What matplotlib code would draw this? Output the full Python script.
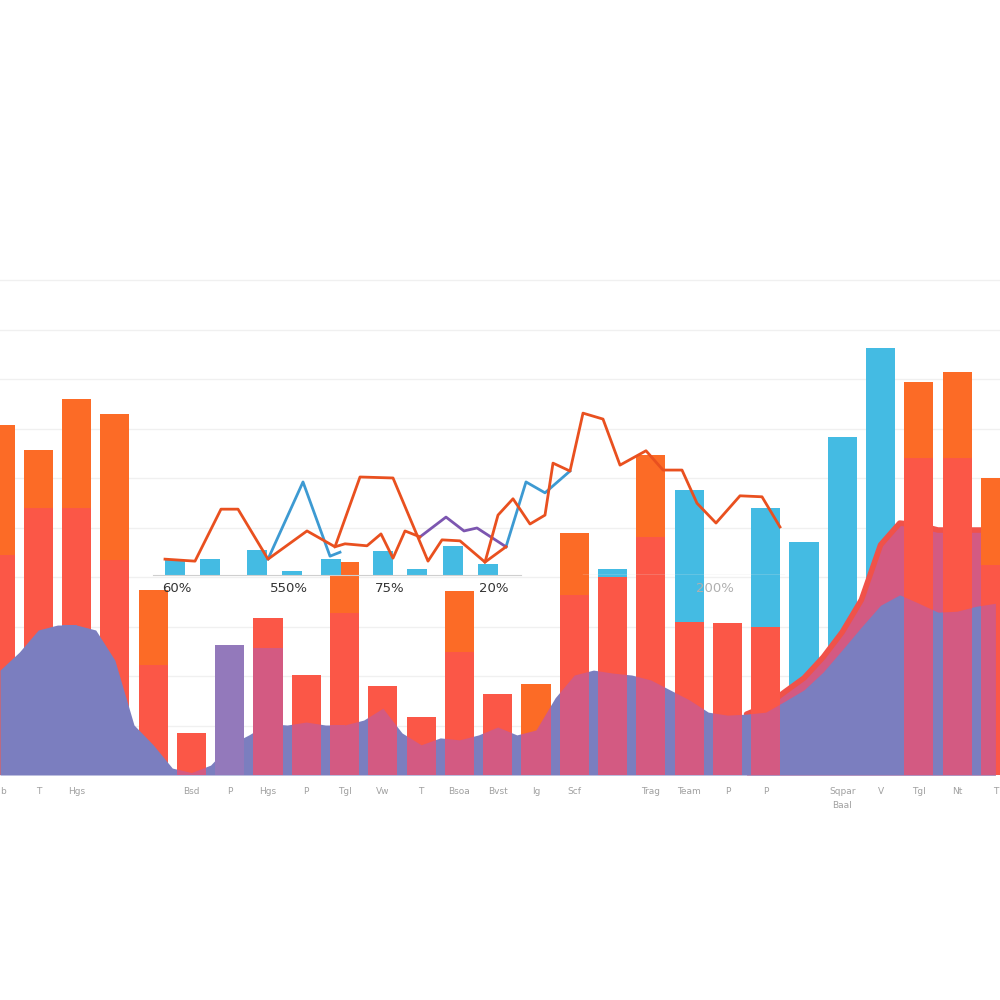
import matplotlib.pyplot as plt
import numpy as np
from matplotlib.path import Path

# ---- main chart: stacked bars + smooth areas ----
cats = ["b", "T", "Hgs", "", "", "Bsd", "P", "Hgs", "P", "Tgl", "Vw", "T", "Bsoa",
        "Bvst", "Ig", "Scf", "", "Trag", "Team", "P", "P", "", "Sqpar\nBaal",
        "V", "Tgl", "Nt", "T"]
red_seg = [44.4, 53.9, 53.9, 43.4, 22.2, 8.5, 0, 31.7, 20.2, 32.7, 18.0, 11.7, 24.8,
           16.4, 0, 36.4, 40.0, 48.1, 30.9, 30.7, 29.9, 0, 0, 0, 64.0, 64.0, 42.4]
orange_seg = [26.3, 11.8, 22.1, 29.5, 15.2, 0, 0, 0, 0, 10.3, 0, 0, 12.4,
              0, 18.4, 12.5, 0, 16.5, 0, 0, 0, 0, 0, 0, 15.4, 17.4, 17.6]
blue_seg = [0, 0, 0, 0, 0, 0, 0, 0, 0, 0, 0, 0, 0,
            0, 0, 0, 1.6, 0, 26.7, 0, 24.0, 47.1, 68.3, 86.3, 0, 0, 0]
violet_seg = [0, 0, 0, 0, 0, 0, 26.3, 0, 0, 0, 0, 0, 0,
              0, 0, 0, 0, 0, 0, 0, 0, 0, 0, 0, 0, 0, 0]
pink_seg = [0, 0, 0, 0, 0, 0, 0, 25.7, 0, 0, 0, 0, 0,
            0, 0, 0, 0, 0, 0, 0, 0, 0, 0, 0, 0, 0, 0]

# purple area, read at every half category
purple_y = [21.2, 24.8, 29.3, 30.3, 30.3, 29.3, 23.2, 10.1, 6.1, 1.4, 0.5, 2.0, 6.1,
            8.1, 10.4, 10.1, 10.7, 10.1, 10.1, 11.1, 13.5, 8.5, 6.1, 7.5, 7.1, 8.1,
            9.7, 8.1, 9.1, 15.6, 20.2, 21.2, 20.6, 20.2, 19.2, 17.2, 15.2, 12.7,
            12.1, 12.3, 12.7, 14.9, 17.2, 20.8, 25.3, 29.9, 34.3, 36.4, 34.7, 32.9,
            33.1, 34.1, 34.7]
# red/pink area on the right, from category 19.5 onward
red_area_y = [12.3, 13.9, 16.8, 19.6, 23.8, 28.9, 35.4, 46.5, 50.9, 50.5, 49.5,
              49.5, 49.5, 49.5]

# ---- inset line chart ----
inset_ticks = [2.5, 13.7, 23.8, 34.2, 56.3]
inset_labels = ["60%", "550%", "75%", "20%", "200%"]
inset_bar_t = [2.3, 5.8, 10.5, 14.0, 17.9, 23.1, 26.5, 30.1, 33.6]
inset_bar_v = [3.0, 3.2, 5.1, 0.8, 3.2, 4.8, 1.2, 5.9, 2.2]

orange_t = [1.3, 4.3, 6.9, 8.6, 11.6, 15.5, 18.3, 20.8, 24.1, 27.6, 29.0, 30.8, 33.3,
            34.6, 36.1, 37.8, 39.3, 40.1, 41.8, 43.1, 45.1, 46.8, 49.4, 51.1, 53.0,
            54.5, 56.4, 58.8, 61.0, 62.8]
orange_v = [3.2, 2.8, 13.3, 13.3, 3.2, 8.9, 5.7, 19.8, 19.6, 2.8, 7.1, 6.9, 2.6,
            12.1, 15.4, 10.3, 12.1, 22.6, 21.0, 32.7, 31.5, 22.2, 25.1, 21.2, 21.2,
            14.5, 10.5, 16.0, 15.8, 9.7]
orange2_t = [18.3, 19.3, 21.5, 22.9, 24.1, 25.3, 26.8, np.nan, 33.3, 35.4]
orange2_v = [5.7, 6.3, 5.9, 8.3, 3.4, 8.9, 7.7, np.nan, 2.6, 5.7]
blue_t = [11.6, 15.1, 17.8, 18.8, np.nan, 35.4, 37.4, 39.3, 41.8]
blue_v = [3.2, 18.8, 3.8, 4.6, np.nan, 5.7, 18.8, 16.6, 21.0]
purple_t = [26.8, 29.4, 31.2, 32.5, 35.4]
purple_v = [7.7, 11.7, 8.9, 9.5, 5.7]

C_ORANGE = '#fc6b26'
C_RED = '#fb5747'
C_BLUE = '#44bbe3'
C_LAV = '#7b7ebf'
C_PINK = '#d35a82'
C_VIOLET = '#9379bb'
N_LAV = 5  # on the first bars the purple area stays lavender

fig = plt.figure(figsize=(10, 10), dpi=100)
fig.patch.set_facecolor('white')

ax = fig.add_axes([0, 0.225, 1, 0.775])
ax.set_xlim(0.179, 26.12)
ax.set_ylim(0, 156.6)
for s in ax.spines.values():
    s.set_visible(False)
ax.set_yticks(np.arange(10, 101, 10))
ax.yaxis.grid(True, color='#f0f0f0', linewidth=1)
ax.set_axisbelow(True)
ax.tick_params(axis='y', length=0, labelleft=False)

x = np.arange(len(cats))
w = 0.76
red = np.array(red_seg)
ax.bar(x, blue_seg, w, bottom=red, color=C_BLUE, zorder=1)
ax.bar(x, red_seg, w, color=C_RED, zorder=4)
ax.bar(x, orange_seg, w, bottom=red, color=C_ORANGE, zorder=4)
ax.bar(x, violet_seg, w, color=C_VIOLET, zorder=4)
ax.bar(x, pink_seg, w, color=C_PINK, zorder=5)

px = np.arange(len(purple_y)) * 0.5
rx = 19.5 + np.arange(len(red_area_y)) * 0.5
ax.fill_between(rx, 0, red_area_y, color=C_PINK, lw=0, zorder=2)
ax.plot(rx, red_area_y, color='#f05249', lw=4, zorder=2.5, solid_capstyle='round')
ax.fill_between(px, 0, purple_y, color=C_LAV, lw=0, zorder=3)

# purple area seen through the red/orange bars: lavender on the left, pink elsewhere
tot = red + np.array(orange_seg)


def bar_path(idx):
    rects = [Path([(i - w / 2, 0), (i + w / 2, 0), (i + w / 2, tot[i]),
                   (i - w / 2, tot[i]), (i - w / 2, 0)]) for i in idx if tot[i] > 0]
    return Path.make_compound_path(*rects)


lav = ax.fill_between(px, 0, purple_y, color=C_LAV, lw=0, zorder=5)
lav.set_clip_path(bar_path(x[:N_LAV]), ax.transData)
pink = ax.fill_between(px, 0, purple_y, color=C_PINK, lw=0, zorder=5)
pink.set_clip_path(bar_path(x[N_LAV:]), ax.transData)

ax.set_xticks(x)
ax.set_xticklabels(cats, fontsize=6.5, color='#a0a0a0', linespacing=1.6)
ax.get_xticklabels()[0].set_horizontalalignment('left')
ax.tick_params(axis='x', length=0, pad=9)

# ---- inset ----
ins = fig.add_axes([0.152, 0.425, 0.633, 0.198])
ins.set_facecolor('none')
ins.set_xlim(0, 63.3)
ins.set_ylim(0, 40)
for k in ['top', 'right', 'left']:
    ins.spines[k].set_visible(False)
ins.spines['bottom'].set_color('#cfcfcf')
ins.spines['bottom'].set_bounds(0.1, 36.9)
ins.axhline(0, xmin=43.1 / 63.3, xmax=1, color='#e4e4e4', lw=1)
ins.set_yticks([])

ins.bar(inset_bar_t, inset_bar_v, 2.0, color=C_BLUE, zorder=2)
ins.plot(blue_t, blue_v, color='#3d9ad2', lw=2, zorder=3)
ins.plot(purple_t, purple_v, color='#7c56b0', lw=2, zorder=3)
ins.plot(orange2_t, orange2_v, color='#e9501f', lw=2, zorder=4)
ins.plot(orange_t, orange_v, color='#e9501f', lw=2, zorder=4)

ins.set_xticks(inset_ticks)
ins.set_xticklabels(inset_labels, fontsize=9.5, color='#333333')
ins.get_xticklabels()[-1].set_color('#b0b0b0')
ins.tick_params(axis='x', length=0, pad=5)

plt.savefig('out.png', dpi=100)
